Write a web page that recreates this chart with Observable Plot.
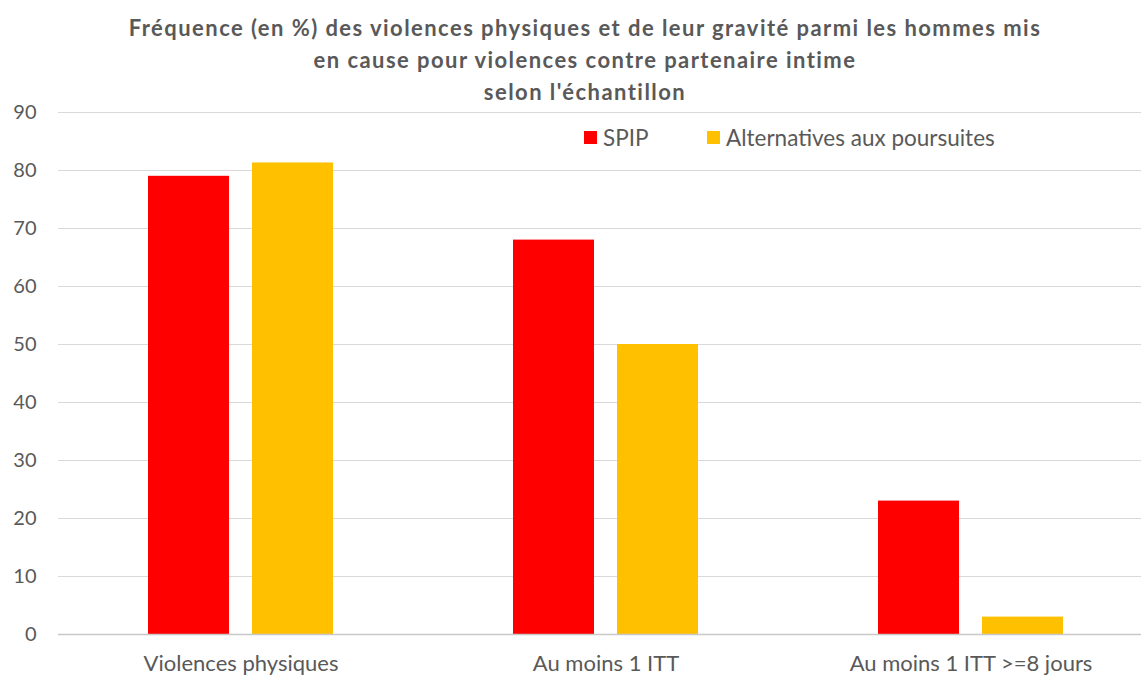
<!DOCTYPE html>
<html>
<head>
<meta charset="utf-8">
<script src="https://cdn.jsdelivr.net/npm/d3@7"></script>
<script src="https://cdn.jsdelivr.net/npm/@observablehq/plot@0.6"></script>
<style>
  html, body { margin: 0; padding: 0; background: #fff; }
  #wrap { position: relative; width: 1141px; height: 675px; overflow: hidden; font-family: Lato, "Open Sans", sans-serif; color: #595959; }
  #title { position: absolute; top: 12px; left: 0; width: 1170px; text-align: center; font-weight: bold; font-size: 22px; letter-spacing: 1.45px; line-height: 32px; color: #595959; z-index: 2; }
  #chart { position: absolute; top: 88px; left: 0; }
  .item { position: absolute; top: 124px; display: flex; align-items: center; font-size: 22.5px; color: #595959; z-index: 2; }
  .sw { width: 13px; height: 13px; margin-right: 6px; }
</style>
</head>
<body>
<div id="wrap">
  <div id="title">Fréquence (en %) des violences physiques et de leur gravité parmi les hommes mis<br>en cause pour violences contre partenaire intime<br>selon l'échantillon</div>
  <div id="chart"></div>
</div>
<script>
const categories = ["Violences physiques", "Au moins 1 ITT", "Au moins 1 ITT >=8 jours"];
const series = ["SPIP", "Alternatives aux poursuites"];
const spip = [79, 68, 23];
const alternatives = [81.3, 50, 3];
const yTicks = [0, 10, 20, 30, 40, 50, 60, 70, 80, 90];
const colors = ["#FF0000", "#FFC000"];

const data = categories.flatMap((c, i) => [
  {cat: c, serie: series[0], value: spip[i]},
  {cat: c, serie: series[1], value: alternatives[i]}
]);

const chart = Plot.plot({
  width: 1141,
  height: 587,
  marginTop: 24,
  marginBottom: 41,
  marginLeft: 58,
  marginRight: 0,
  style: {fontFamily: "Lato, 'Open Sans', sans-serif", color: "#595959", background: "transparent", overflow: "visible"},
  fx: {domain: categories, range: [58, 1153], paddingInner: 0, paddingOuter: 0},
  x: {domain: series, paddingInner: 0.221, paddingOuter: 0.865, axis: null},
  y: {domain: [0, 90]},
  color: {domain: series, range: colors},
  marks: [
    Plot.gridY(yTicks, {stroke: "#d9d9d9", strokeOpacity: 1}),
    Plot.barY(data, {fx: "cat", x: "serie", y: "value", fill: "serie"}),
    Plot.ruleY([0], {stroke: "#c8c8c8", strokeWidth: 1.5}),
    Plot.axisY(yTicks, {tickSize: 0, tickPadding: 22, fontSize: 20, label: null}),
    Plot.axisFx({anchor: "bottom", tickSize: 0, tickPadding: 21, fontSize: 22, label: null})
  ]
});
document.getElementById("chart").appendChild(chart);

const wrap = document.getElementById("wrap");
const legendLeft = [584, 707];
series.forEach((s, i) => {
  const item = document.createElement("div");
  item.className = "item";
  item.style.left = legendLeft[i] + "px";
  const sw = document.createElement("div");
  sw.className = "sw";
  sw.style.background = colors[i];
  const t = document.createElement("span");
  t.textContent = s;
  item.appendChild(sw);
  item.appendChild(t);
  wrap.appendChild(item);
});
</script>
</body>
</html>
